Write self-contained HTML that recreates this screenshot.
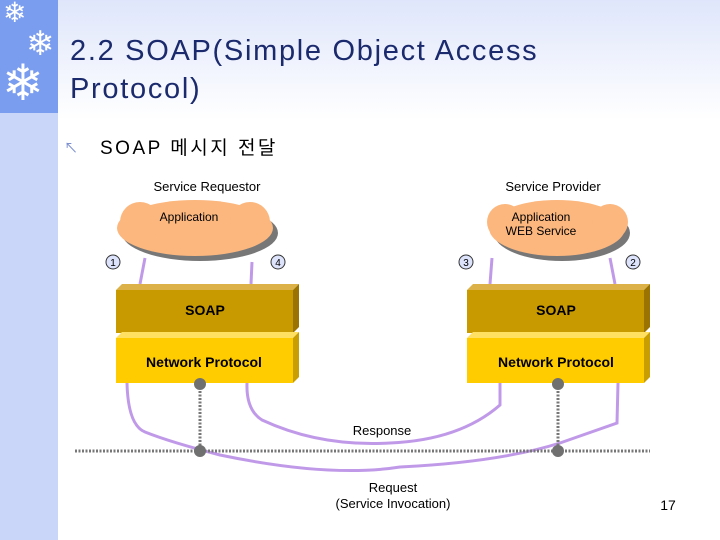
<!DOCTYPE html>
<html><head><meta charset="utf-8"><style>
body{margin:0;width:720px;height:540px;overflow:hidden;position:relative;background:linear-gradient(#dfe6fb 0px,#fff 120px);font-family:"Liberation Sans","Noto Sans CJK KR",sans-serif}
.t{position:absolute;white-space:nowrap}
</style></head><body>
<div style="position:absolute;left:0;top:0;width:58px;height:540px;background:#c9d6f9"></div>
<div style="position:absolute;left:0;top:0;width:58px;height:113px;background:#7b9df0"></div>
<div class="t" style="left:3px;top:-4px;font-size:28px;color:#fff">❄</div>
<div class="t" style="left:26px;top:24px;font-size:34px;color:#fff">❄</div>
<div class="t" style="left:2px;top:56px;font-size:50px;color:#fff;line-height:54px">❄</div>
<div class="t" style="left:70px;top:32px;font-size:29px;color:#1a2a6c;line-height:38px;letter-spacing:1.7px">2.2 SOAP(Simple Object Access<br>Protocol)</div>
<div class="t" style="left:64px;top:138px;font-size:14px;color:#7b8fcf">↖</div>
<div class="t" style="left:100px;top:133px;font-size:19px;color:#000;letter-spacing:2.5px">SOAP 메시지 전달</div>
<svg width="720" height="540" style="position:absolute;left:0;top:0">
<g font-family="Liberation Sans,sans-serif">
<g fill="#777"><ellipse cx="200" cy="233" rx="78" ry="28"/><ellipse cx="562" cy="233" rx="68" ry="28"/></g>
<g fill="#fbb77e"><ellipse cx="195" cy="228" rx="78" ry="28"/><ellipse cx="557" cy="228" rx="68" ry="28"/>
<circle cx="140" cy="222" r="20"/><circle cx="250" cy="222" r="20"/><circle cx="505" cy="222" r="18"/><circle cx="610" cy="222" r="18"/></g>
<text x="189" y="221" font-size="12" text-anchor="middle">Application</text>
<text x="541" y="221" font-size="12" text-anchor="middle">Application</text>
<text x="541" y="235" font-size="12" text-anchor="middle">WEB Service</text>
<text x="207" y="191" font-size="13" text-anchor="middle">Service Requestor</text>
<text x="553" y="191" font-size="13" text-anchor="middle">Service Provider</text>
<g stroke="#c09ae8" stroke-width="3" fill="none">
<line x1="140" y1="284" x2="145" y2="258"/><line x1="251" y1="284" x2="252" y2="262"/>
<line x1="490" y1="284" x2="492" y2="258"/><line x1="615" y1="284" x2="610" y2="258"/>
<path d="M127 383 Q128 425 145 432 Q170 442 220 455 Q330 478 400 467 Q500 462 560 443 L617 423 L618 383"/>
<path d="M247 383 Q246 410 262 420 Q320 447 390 443 Q460 440 500 405 L500 383"/>
</g>
<g fill="#dde3fb" stroke="#333"><circle cx="113" cy="262" r="7"/><circle cx="278" cy="262" r="7"/><circle cx="466" cy="262" r="7"/><circle cx="633" cy="262" r="7"/></g>
<g font-size="10" text-anchor="middle"><text x="113" y="266">1</text><text x="278" y="266">4</text><text x="466" y="266">3</text><text x="633" y="266">2</text></g>
<g>
<polygon points="116,290 122,284 299,284 293,290" fill="#dcb248"/>
<polygon points="293,290 299,284 299,327 293,333" fill="#9a7300"/>
<rect x="116" y="290" width="177" height="43" fill="#c89a00"/>
<polygon points="116,338 122,332 299,332 293,338" fill="#ffe060"/>
<polygon points="293,338 299,332 299,377 293,383" fill="#c89e00"/>
<rect x="116" y="338" width="177" height="45" fill="#ffcc00"/>
<polygon points="467,290 473,284 650,284 644,290" fill="#dcb248"/>
<polygon points="644,290 650,284 650,327 644,333" fill="#9a7300"/>
<rect x="467" y="290" width="177" height="43" fill="#c89a00"/>
<polygon points="467,338 473,332 650,332 644,338" fill="#ffe060"/>
<polygon points="644,338 650,332 650,377 644,383" fill="#c89e00"/>
<rect x="467" y="338" width="177" height="45" fill="#ffcc00"/>
</g>
<g font-size="14" font-weight="bold" text-anchor="middle">
<text x="205" y="315">SOAP</text><text x="204" y="367">Network Protocol</text>
<text x="556" y="315">SOAP</text><text x="556" y="367">Network Protocol</text></g>
<g stroke="#777" stroke-width="3" stroke-dasharray="2,1.5">
<line x1="75" y1="451" x2="650" y2="451"/><line x1="200" y1="384" x2="200" y2="451"/><line x1="558" y1="384" x2="558" y2="451"/></g>
<g fill="#707070"><circle cx="200" cy="384" r="6"/><circle cx="200" cy="451" r="6"/><circle cx="558" cy="384" r="6"/><circle cx="558" cy="451" r="6"/></g>
<g font-size="13" text-anchor="middle"><text x="382" y="435">Response</text><text x="393" y="492">Request</text><text x="393" y="508">(Service Invocation)</text></g>
<text x="668" y="510" font-size="14" text-anchor="middle">17</text>
</g></svg>
</body></html>
